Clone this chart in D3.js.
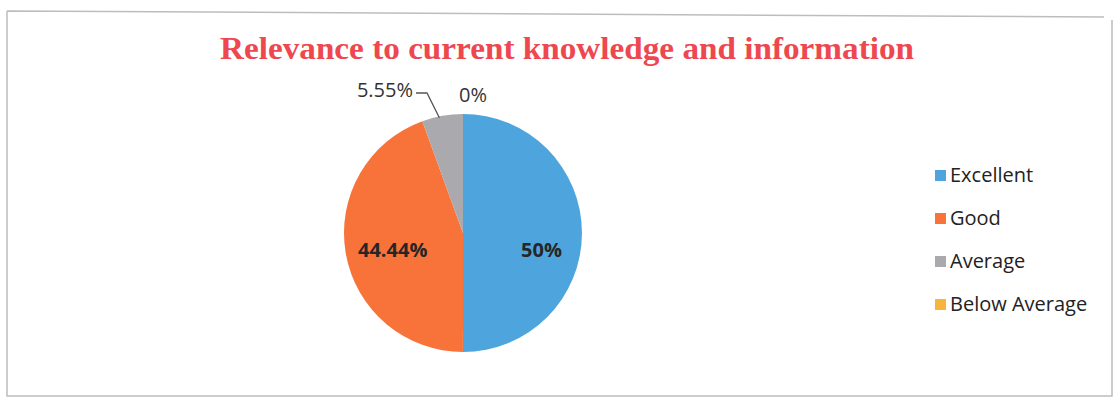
<!DOCTYPE html>
<html>
<head>
<meta charset="utf-8">
<script src="https://cdn.jsdelivr.net/npm/d3@7"></script>
<style>
  html, body { margin: 0; padding: 0; background: #fff; }
  svg { display: block; }
</style>
</head>
<body>
<svg id="chart" width="1118" height="400"></svg>
<script>
// Survey ratings and their shares
const categories = ["Excellent", "Good", "Average", "Below Average"];
const values = [50, 44.44, 5.55, 0];
const labels = ["50%", "44.44%", "5.55%", "0%"];
const colors = ["#4ea5de", "#f8733a", "#a9a9ae", "#f8b53c"];
const title = "Relevance to current knowledge and information";

const svg = d3.select("#chart");

// Frame around the chart area
svg.append("path")
  .attr("d", "M7,11 L1104,17 M7,11 L7,396 L1112,396 L1112,20")
  .attr("fill", "none")
  .attr("stroke", "#bdbdbd")
  .attr("stroke-width", 1.5);

// Title
svg.append("text")
  .attr("x", 567).attr("y", 59)
  .attr("text-anchor", "middle")
  .attr("font-family", "'Liberation Serif', 'Times New Roman', serif")
  .attr("font-weight", "bold")
  .attr("font-size", 31)
  .attr("textLength", 694)
  .attr("lengthAdjust", "spacingAndGlyphs")
  .attr("fill", "#ee4750")
  .text(title);

// Pie
const cx = 463, cy = 233, R = 119;
const pie = d3.pie().sort(null).value(d => d.v);
const arc = d3.arc().innerRadius(0).outerRadius(R);
const data = categories.map((c, i) => ({ c, v: values[i], color: colors[i], label: labels[i] }));
const arcs = pie(data);

const g = svg.append("g").attr("transform", `translate(${cx},${cy})`);
g.selectAll("path.slice")
  .data(arcs)
  .join("path")
  .attr("class", "slice")
  .attr("d", arc)
  .attr("fill", d => d.data.color);

const labelFont = "'Open Sans', 'Noto Sans', sans-serif";

// Inside labels for the two large slices, set on one horizontal line
const insideRadius = [R * 0.66, R * 0.6];
[0, 1].forEach(i => {
  const a = arcs[i];
  const ang = (a.startAngle + a.endAngle) / 2;
  g.append("text")
    .attr("x", Math.sin(ang) * insideRadius[i])
    .attr("y", 24)
    .attr("text-anchor", "middle")
    .attr("font-family", labelFont)
    .attr("font-weight", "bold")
    .attr("font-size", 20)
    .attr("fill", "#262626")
    .text(a.data.label);
});

// Outside label with leader line for the small slice
const avg = arcs[2];
const avgAng = (avg.startAngle + avg.endAngle) / 2;
const edge = [Math.sin(avgAng) * R, -Math.cos(avgAng) * R];
g.append("polyline")
  .attr("points", [[edge[0] - 3, edge[1] + 2], [-36, -140], [-47, -140]].map(p => p.join(",")).join(" "))
  .attr("fill", "none")
  .attr("stroke", "#555")
  .attr("stroke-width", 1.3);
g.append("text")
  .attr("x", -50).attr("y", -136)
  .attr("text-anchor", "end")
  .attr("font-family", labelFont)
  .attr("font-size", 20)
  .attr("fill", "#333")
  .text(avg.data.label);

// Label for the empty slice
const below = arcs[3];
g.append("text")
  .attr("x", Math.sin(below.startAngle) * R + 10)
  .attr("y", -131)
  .attr("text-anchor", "middle")
  .attr("font-family", labelFont)
  .attr("font-size", 20)
  .attr("fill", "#333")
  .text(below.data.label);

// Legend
const legY = d3.scalePoint().domain(categories).range([175, 304]);
const leg = svg.append("g");
categories.forEach((c, i) => {
  const y = legY(c);
  leg.append("rect")
    .attr("x", 935).attr("y", y - 5)
    .attr("width", 11).attr("height", 11)
    .attr("fill", colors[i]);
  leg.append("text")
    .attr("x", 950).attr("y", y + 7)
    .attr("font-family", labelFont)
    .attr("font-size", 20)
    .attr("fill", "#222")
    .text(c);
});
</script>
</body>
</html>
